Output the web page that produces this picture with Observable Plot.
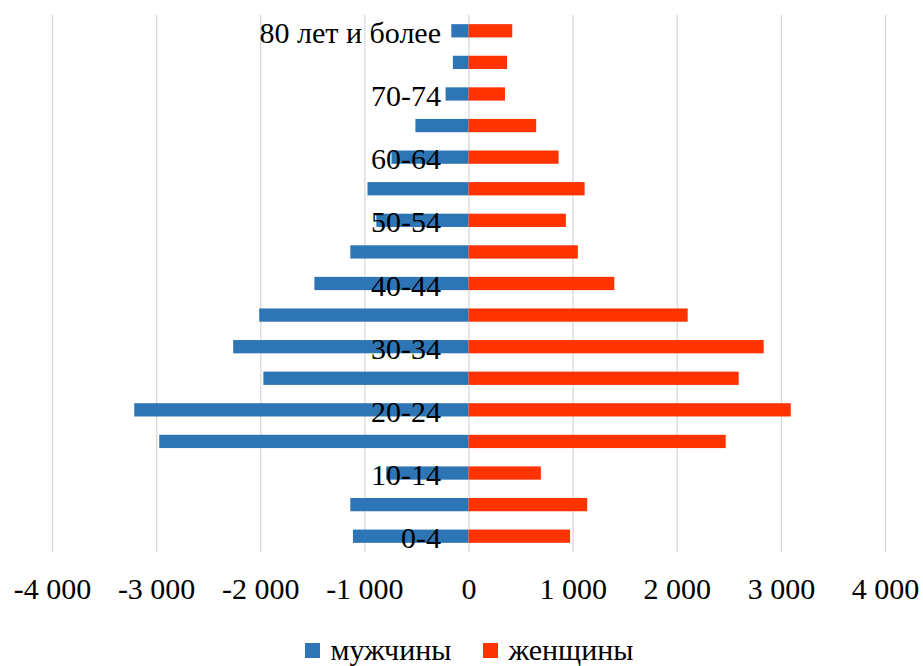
<!DOCTYPE html>
<html>
<head>
<meta charset="utf-8">
<script src="https://cdn.jsdelivr.net/npm/d3@7"></script>
<script src="https://cdn.jsdelivr.net/npm/@observablehq/plot@0.6"></script>
<style>
  body { margin: 0; background: #fff; font-family: "Liberation Serif", "Times New Roman", serif; }
  #chart { width: 923px; }
  .legend { display: flex; justify-content: center; align-items: center; gap: 0; padding-left: 16px; height: 40px; margin-top: 10px; font-size: 30px; color: #000; }
  .legend .item { display: flex; align-items: center; margin: 0 16px; }
  .legend .sw { width: 15px; height: 15px; margin-right: 10px; display: inline-block; }
</style>
</head>
<body>
<div id="chart"></div>
<script>
const ages = ["0-4","5-9","10-14","15-19","20-24","25-29","30-34","35-39","40-44","45-49","50-54","55-59","60-64","65-69","70-74","75-79","80 лет и более"];
const men = [1110, 1135, 790, 2970, 3210, 1970, 2260, 2010, 1480, 1135, 885, 970, 740, 510, 220, 150, 165];
const women = [975, 1140, 695, 2470, 3095, 2595, 2835, 2105, 1400, 1050, 935, 1115, 865, 650, 350, 370, 420];
const shownLabels = ["0-4","10-14","20-24","30-34","40-44","50-54","60-64","70-74","80 лет и более"];
const xTicks = [-4000,-3000,-2000,-1000,0,1000,2000,3000,4000];
const seriesNames = ["мужчины","женщины"];
const colors = ["#2e75b6","#ff3300"];

const rows = [];
ages.forEach((a, i) => {
  rows.push({age: a, sex: seriesNames[0], value: -men[i]});
  rows.push({age: a, sex: seriesNames[1], value: women[i]});
});
const labelRows = shownLabels.map(a => ({age: a, zero: 0}));

const locale = d3.formatLocale({decimal: ",", thousands: " ", grouping: [3], currency: ["", ""], minus: "-"});
const fmt = locale.format(",");

const chart = Plot.plot({
  width: 923,
  height: 620,
  marginTop: 15,
  marginBottom: 68,
  marginLeft: 52,
  marginRight: 38,
  style: {fontFamily: "Liberation Serif, Times New Roman, serif", background: "#fff", color: "#000"},
  x: {domain: [-4000, 4000], ticks: xTicks, tickFormat: fmt, label: null},
  y: {domain: ages.slice().reverse(), paddingInner: 0.58, paddingOuter: 0.29, round: false, axis: null, label: null},
  color: {domain: seriesNames, range: colors},
  marks: [
    Plot.gridX(xTicks, {stroke: "#d9d9d9", strokeOpacity: 1, strokeWidth: 1.3}),
    Plot.axisX(xTicks, {tickSize: 0, tickPadding: 25, fontSize: 30, tickFormat: fmt, label: null}),
    Plot.barX(rows, {x: "value", y: "age", fill: "sex"}),
    Plot.text(labelRows, {x: "zero", y: "age", text: "age", textAnchor: "end", dx: -28, dy: 2, fontSize: 30, fill: "#000"})
  ]
});
document.getElementById("chart").appendChild(chart);

const legend = document.createElement("div");
legend.className = "legend";
seriesNames.forEach((n, i) => {
  const item = document.createElement("span");
  item.className = "item";
  const sw = document.createElement("span");
  sw.className = "sw";
  sw.style.background = colors[i];
  item.appendChild(sw);
  item.appendChild(document.createTextNode(n));
  legend.appendChild(item);
});
document.body.appendChild(legend);
</script>
</body>
</html>
